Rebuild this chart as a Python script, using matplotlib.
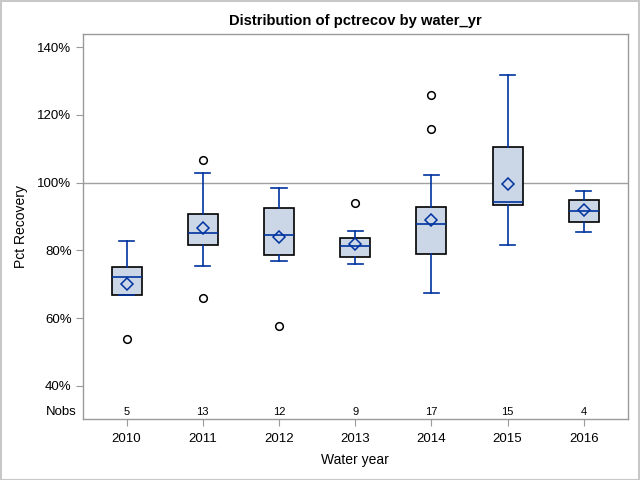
import matplotlib
matplotlib.use("Agg")
import matplotlib.pyplot as plt
from matplotlib.patches import Rectangle
from matplotlib.ticker import FuncFormatter

plt.rcParams['font.family'] = ['Liberation Sans', 'DejaVu Sans']

years = ['2010', '2011', '2012', '2013', '2014', '2015', '2016']
whislo = [66.8, 75.3, 76.8, 76.1, 67.4, 81.5, 85.5]
q1 = [66.8, 81.7, 78.7, 78.1, 78.8, 93.4, 88.4]
med = [72.1, 85.2, 84.6, 81.4, 87.9, 94.3, 91.7]
q3 = [75.0, 90.8, 92.6, 83.7, 92.9, 110.5, 94.9]
whishi = [82.9, 102.8, 98.4, 85.8, 102.2, 131.7, 97.6]
means = [70.2, 86.7, 84.0, 82.0, 89.1, 99.6, 91.9]
fliers = [[53.8], [106.7, 65.8], [57.6], [94.0], [125.8, 115.8], [], []]
nobs = [5, 13, 12, 9, 17, 15, 4]

line_blue = '#0033a0'
fill = '#cbd6e6'

fig = plt.figure(figsize=(6.4, 4.8), dpi=100)
ax = fig.add_axes([0.1302, 0.1271, 0.8503, 0.8021])

stats = []
for i in range(len(years)):
    stats.append(dict(whislo=whislo[i], q1=q1[i], med=med[i], q3=q3[i],
                      whishi=whishi[i], mean=means[i], fliers=fliers[i], label=years[i]))

pos = list(range(1, len(years) + 1))
ax.axhline(100, color='#a0a0a0', lw=1, zorder=1)
ax.bxp(stats, positions=pos, widths=0.394, patch_artist=True, showmeans=True,
       boxprops=dict(facecolor=fill, edgecolor='black', lw=1.2),
       medianprops=dict(color=line_blue, lw=1.2),
       whiskerprops=dict(color=line_blue, lw=1.2),
       capprops=dict(color=line_blue, lw=1.2),
       capwidths=0.2,
       meanprops=dict(marker='D', markerfacecolor='none', markeredgecolor=line_blue,
                      markersize=6.5, markeredgewidth=1.1),
       flierprops=dict(marker='o', markerfacecolor='none', markeredgecolor='black',
                       markersize=5.5, markeredgewidth=1.1),
       zorder=3)

ax.set_xlim(0.432, 7.575)
ax.set_ylim(30.2, 143.9)
ax.set_yticks([40, 60, 80, 100, 120, 140])
ax.yaxis.set_major_formatter(FuncFormatter(lambda v, p: f"{v:.0f}%"))
ax.set_xticks(pos)
ax.set_xticklabels(years)

for s in ax.spines.values():
    s.set_color('#9a9a9a')
    s.set_linewidth(1)
ax.tick_params(axis='both', colors='#9a9a9a', labelcolor='black', labelsize=9.5,
               length=5, direction='out')
ax.tick_params(axis='x', pad=5)

for p, n in zip(pos, nobs):
    ax.text(p, 32.4, str(n), ha='center', va='center', fontsize=8)
ax.text(-0.012, 32.4, 'Nobs', ha='right', va='center', fontsize=9.5,
        transform=ax.get_yaxis_transform())

ax.set_ylabel('Pct Recovery', fontsize=10, labelpad=7)
ax.set_xlabel('Water year', fontsize=10, labelpad=6)
fig.text(0.556, 0.956, 'Distribution of pctrecov by water_yr', ha='center', va='center',
         fontsize=10.6, fontweight='bold')

fig.patches.append(Rectangle((0.001, 0.001), 0.998, 0.997, transform=fig.transFigure,
                             fill=False, edgecolor='#c8c8c8', lw=1.5))

fig.savefig('out.png', dpi=100)
